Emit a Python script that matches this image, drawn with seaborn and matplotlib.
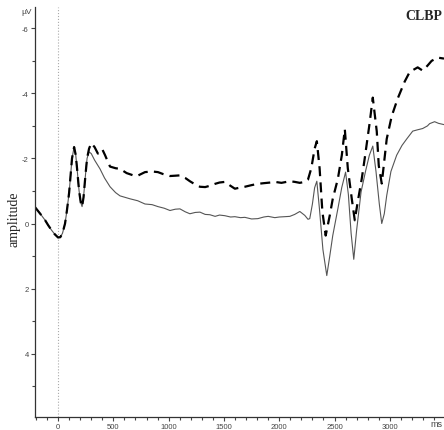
import numpy as np
import pandas as pd
import matplotlib
matplotlib.use("Agg")
import matplotlib.pyplot as plt
import seaborn as sns
from matplotlib.ticker import MultipleLocator

# time (ms) and amplitude (uV)
t_common = [-208, -180, -150, -117, -90, -60, -30, 0, 20, 40, 63, 80, 100,
            126, 145, 160, 172, 190, 205, 217, 230, 248, 262]
amp_common = [-0.5, -0.38, -0.25, -0.1, 0.05, 0.2, 0.33, 0.43, 0.42, 0.3, 0.0,
              -0.4, -0.95, -2.0, -2.35, -2.1, -1.68, -1.0, -0.65, -0.52, -0.8,
              -1.5, -2.0]

t_solid = [280, 300, 330, 379, 420, 470, 520, 560, 650, 720, 786, 850, 903,
           960, 1012, 1060, 1102, 1150, 1192, 1240, 1283, 1330, 1373, 1420,
           1460, 1509, 1560, 1599, 1650, 1689, 1750, 1807, 1860, 1900, 1960,
           2000, 2050, 2096, 2140, 2186, 2231, 2260, 2276, 2300, 2320, 2340,
           2365, 2395, 2430, 2457, 2484, 2530, 2565, 2600, 2625, 2650, 2674,
           2700, 2740, 2780, 2815, 2846, 2875, 2905, 2927, 2950, 2972, 3010,
           3062, 3110, 3153, 3207, 3250, 3297, 3340, 3360, 3405, 3440, 3490]
amp_solid = [-2.2, -2.15, -1.95, -1.68, -1.4, -1.13, -0.95, -0.85, -0.76, -0.7,
             -0.6, -0.58, -0.52, -0.47, -0.4, -0.44, -0.45, -0.36, -0.3, -0.34,
             -0.35, -0.28, -0.27, -0.22, -0.26, -0.24, -0.2, -0.21, -0.18,
             -0.19, -0.14, -0.15, -0.2, -0.22, -0.18, -0.2, -0.21, -0.22,
             -0.28, -0.37, -0.25, -0.13, -0.15, -0.6, -1.1, -1.3, -0.4, 0.8,
             1.6, 1.0, 0.37, -0.45, -1.1, -1.58, -0.9, 0.3, 1.1, 0.2, -0.97,
             -1.6, -2.1, -2.38, -1.6, -0.6, 0.0, -0.3, -0.86, -1.6, -2.1, -2.4,
             -2.6, -2.84, -2.88, -2.92, -3.0, -3.07, -3.13, -3.08, -3.04]

t_dash = [280, 300, 330, 360, 380, 400, 425, 450, 470, 520, 560, 620, 680,
          714, 750, 786, 850, 903, 950, 1012, 1060, 1102, 1150, 1192, 1240,
          1283, 1330, 1373, 1420, 1460, 1509, 1550, 1599, 1640, 1689, 1750,
          1807, 1860, 1920, 1960, 2020, 2096, 2140, 2186, 2231, 2260, 2290,
          2320, 2340, 2365, 2390, 2420, 2457, 2484, 2530, 2566, 2593, 2620,
          2656, 2683, 2710, 2746, 2773, 2818, 2846, 2882, 2900, 2927, 2972,
          3017, 3071, 3134, 3180, 3252, 3297, 3340, 3378, 3433, 3490]
amp_dash = [-2.3, -2.47, -2.35, -2.15, -2.2, -2.28, -2.1, -1.9, -1.75, -1.7,
            -1.68, -1.55, -1.48, -1.46, -1.52, -1.58, -1.6, -1.58, -1.52,
            -1.46, -1.47, -1.48, -1.4, -1.3, -1.2, -1.13, -1.12, -1.16, -1.22,
            -1.26, -1.28, -1.18, -1.07, -1.1, -1.13, -1.18, -1.22, -1.24,
            -1.26, -1.28, -1.25, -1.3, -1.28, -1.25, -1.28, -1.35, -1.7, -2.3,
            -2.53, -1.7, -0.37, 0.37, -0.25, -0.76, -1.37, -2.1, -2.9, -1.7,
            -0.76, -0.1, -0.67, -1.37, -2.0, -3.1, -3.87, -2.83, -1.78, -1.23,
            -2.6, -3.3, -3.84, -4.36, -4.66, -4.8, -4.7, -4.85, -5.0, -5.1,
            -5.07]

solid = pd.DataFrame({"time": t_common + t_solid, "amp": amp_common + amp_solid})
dashed = pd.DataFrame({"time": t_common + t_dash, "amp": amp_common + amp_dash})

sns.set_style("ticks")
plt.rcParams["font.family"] = ["Liberation Sans", "DejaVu Sans"]
plt.rcParams["axes.unicode_minus"] = False

fig = plt.figure(figsize=(4.44, 4.31), dpi=100)
ax = fig.add_axes([0.079, 0.030, 0.921, 0.951])

ax.axvline(0, color="#aaaaaa", lw=0.8, ls=":", zorder=1)
sns.lineplot(data=solid, x="time", y="amp", ax=ax, color="#555555", lw=0.8)
sns.lineplot(data=dashed, x="time", y="amp", ax=ax, color="black", lw=1.6)
ax.lines[-1].set_linestyle((0, (4.5, 2.8)))

ax.set_xlim(-208, 3490)
ax.set_ylim(5.95, -6.65)
ax.xaxis.set_major_locator(MultipleLocator(500))
ax.xaxis.set_minor_locator(MultipleLocator(100))
ax.yaxis.set_major_locator(MultipleLocator(2))
ax.yaxis.set_minor_locator(MultipleLocator(1))
ax.tick_params(which="both", direction="out", labelsize=5.5, colors="#444444",
               pad=1.5)
ax.tick_params(which="major", length=3, width=0.8)
ax.tick_params(which="minor", length=2, width=0.8)
ax.set_xlabel("")
ax.set_ylabel("")
sns.despine(ax=ax)
for s in ["left", "bottom"]:
    ax.spines[s].set_linewidth(0.9)
    ax.spines[s].set_color("#333333")

fig.text(0.032, 0.492, "amplitude", rotation=90, ha="center", va="center",
         fontsize=10, family="Liberation Serif")
fig.text(0.061, 0.970, "µV", ha="center", va="center", fontsize=6,
         color="#444444")
fig.text(0.984, 0.014, "ms", ha="center", va="center", fontsize=6.5,
         color="#444444")
fig.text(0.997, 0.962, "CLBP", ha="right", va="center", fontsize=10,
         family="Liberation Serif", fontweight="bold")

fig.savefig("out.png", dpi=100)
